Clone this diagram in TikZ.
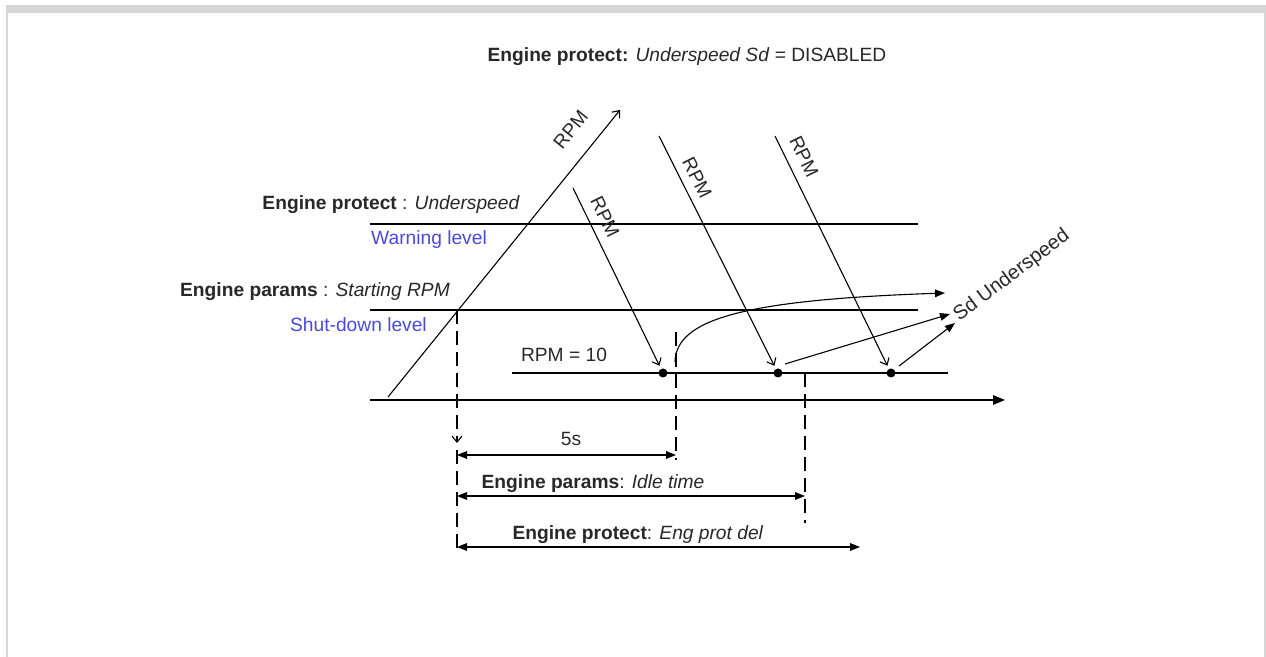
\documentclass[tikz,border=0pt]{standalone}
\usepackage{fontspec}
\setmainfont{Liberation Sans}
\usetikzlibrary{arrows.meta}
\definecolor{framegray}{RGB}{214,214,214}
\definecolor{levelblue}{RGB}{72,72,228}
\definecolor{txtgray}{RGB}{40,40,40}

\begin{document}
\begin{tikzpicture}[x=0.5pt, y=-0.5pt, line width=0.55pt, >={Triangle[length=5pt, width=3.8pt]},
  every node/.style={font=\fontsize{9.6}{11.5}\selectfont, text=txtgray},
  rpm/.style={-{Straight Barb[length=3pt, width=5pt]}},
  dashline/.style={dash pattern=on 7pt off 3.5pt},
  dot/.style={circle, fill=black, inner sep=0pt, minimum size=4.5pt},
  rpmlabel/.style={sloped, inner sep=0pt},
  level/.style={text=levelblue}]
  \useasboundingbox (0,0) rectangle (1266,657);
  \fill[framegray] (6,5) rectangle (1266,13);
  \fill[framegray] (6,5) rectangle (8,657);
  \fill[framegray] (1264,13) rectangle (1265.5,657);

  \node (title) at (687,57) {\textbf{Engine protect:} \textit{Underspeed Sd} = DISABLED};

  \coordinate (w0) at (370,224);
  \coordinate (w1) at (918,224);
  \coordinate (s0) at (370,310);
  \coordinate (s1) at (918,310);
  \coordinate (i0) at (512,373);
  \coordinate (i1) at (948,373);
  \coordinate (t0) at (370,400);
  \coordinate (t1) at (1005,400);
  \draw (w0) -- (w1);
  \draw (s0) -- (s1);
  \draw (i0) -- (i1);
  \draw[-{Triangle[length=6pt, width=4.8pt]}] (t0) -- (t1);

  \node[anchor=east] (protus) at (527,205) {\textbf{Engine protect} : \textit{Underspeed}};
  \node[level, anchor=west] (warn) at (364,240) {Warning level};
  \node[anchor=east] (parstart) at (457,292) {\textbf{Engine params} : \textit{Starting RPM}};
  \node[level, anchor=east] (shut) at (434,325) {Shut-down level};
  \node (rpmten) at (564,355) {RPM = 10};

  \node[dot] (d1) at (663,373) {};
  \node[dot] (d2) at (778,373) {};
  \node[dot] (d3) at (891,373) {};

  \coordinate (up0) at (388,397);
  \coordinate (up1) at (620,110);
  \draw[rpm] (up0) -- (up1) node[rpmlabel, above=9.5pt, pos=0.875] {RPM};
  \coordinate (r1) at (573,188);
  \coordinate (r2) at (659,136);
  \coordinate (r3) at (775,136);
  \draw[rpm, shorten >=1.5pt] (r1) -- (d1) node[rpmlabel, above=4.5pt, pos=0.2] {RPM};
  \draw[rpm, shorten >=1.5pt] (r2) -- (d2) node[rpmlabel, above=4pt, pos=0.21] {RPM};
  \draw[rpm, shorten >=1.5pt] (r3) -- (d3) node[rpmlabel, above=5pt, pos=0.12] {RPM};

  \coordinate (v0) at (457,310);
  \coordinate (v0b) at (457,443);
  \coordinate (v0c) at (457,450);
  \coordinate (v0d) at (457,548);
  \coordinate (v1a) at (676,332);
  \coordinate (v1b) at (676,460);
  \coordinate (v2a) at (805,373);
  \coordinate (v2b) at (805,523);
  \draw[dashline, rpm] (v0) -- (v0b);
  \draw[dashline] (v0c) -- (v0d);
  \draw[dashline] (v1a) -- (v1b);
  \draw[dashline] (v2a) -- (v2b);

  \coordinate (c0) at (675,362);
  \coordinate (c1) at (945,293);
  \draw[->] (c0) .. controls (676,320) and (740,300) .. (c1);

  \node[rotate=37, anchor=base west, inner sep=0pt, font=\fontsize{10}{12}\selectfont] (sdtxt) at (959,322) {Sd Underspeed};
  \coordinate (sd1) at (950,314);
  \coordinate (sd2) at (955,323);
  \draw[->] (d2) ++(7,-9) coordinate (e2) (e2) -- (sd1);
  \draw[->] (d3) ++(8,-7) coordinate (e3) (e3) -- (sd2);

  \coordinate (m0) at (457,455);
  \coordinate (m1) at (676,455);
  \coordinate (m2) at (457,496);
  \coordinate (m3) at (805,496);
  \coordinate (m4) at (457,547);
  \coordinate (m5) at (860,547);
  \draw[<->] (m0) -- (m1);
  \draw[<->] (m2) -- (m3);
  \draw[<->] (m4) -- (m5);
  \node (fives) at (571,439) {5s};
  \node (idle) at (593,484) {\textbf{Engine params}: \textit{Idle time}};
  \node (protdel) at (638,535) {\textbf{Engine protect}: \textit{Eng prot del}};
\end{tikzpicture}
\end{document}
